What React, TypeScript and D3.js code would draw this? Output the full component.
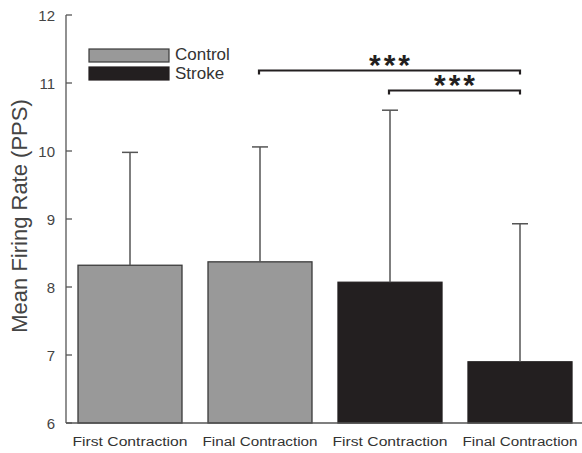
import React from "react";
import * as d3 from "d3";

// Mean firing rate (pulses per second) for each group and contraction
const categories = ["Control First", "Control Final", "Stroke First", "Stroke Final"];
const tickLabels = ["First Contraction", "Final Contraction", "First Contraction", "Final Contraction"];
const groups = ["Control", "Control", "Stroke", "Stroke"];
const means = [8.32, 8.37, 8.07, 6.9];
const upperErrors = [9.98, 10.06, 10.6, 8.93];
const yTicks = [6, 7, 8, 9, 10, 11, 12];
const legendItems = ["Control", "Stroke"];
// significance brackets: [from index, to index, label]
const brackets: [number, number, string][] = [
  [1, 3, "***"],
  [2, 3, "***"],
];

const W = 582;
const H = 453;
const fillFor: Record<string, string> = { Control: "#999999", Stroke: "#231f20" };
const font = "Liberation Sans, Arial, sans-serif";

export default function App() {
  const x = d3
    .scaleBand<string>()
    .domain(categories)
    .range([65, 585])
    .paddingInner(0.2)
    .paddingOuter(0.1);
  const y = d3.scaleLinear().domain([6, 12]).range([423, 15]);
  const axisX = 66;
  const cx = (i: number) => (x(categories[i]) as number) + x.bandwidth() / 2;
  const bracketY = [70.5, 90.5];

  return (
    <svg
      width={W}
      height={H}
      style={{ position: "absolute", left: 0, top: 0, background: "#fff" }}
      fontFamily={font}
    >
      {/* bars */}
      {categories.map((c, i) => (
        <rect
          key={c}
          x={x(c)}
          y={y(means[i])}
          width={x.bandwidth()}
          height={y(6) - y(means[i])}
          fill={fillFor[groups[i]]}
          stroke={groups[i] === "Control" ? "#3a3a3a" : "#231f20"}
          strokeWidth={1.3}
        />
      ))}
      {/* upper error bars */}
      {categories.map((c, i) => (
        <g key={"e" + c} stroke="#555" strokeWidth={1.5}>
          <line x1={cx(i)} x2={cx(i)} y1={y(means[i])} y2={y(upperErrors[i])} />
          <line x1={cx(i) - 8} x2={cx(i) + 8} y1={y(upperErrors[i])} y2={y(upperErrors[i])} />
        </g>
      ))}
      {/* axes */}
      <line x1={axisX} x2={axisX} y1={y(12)} y2={y(6)} stroke="#555" strokeWidth={1.3} />
      <line x1={axisX} x2={582} y1={y(6)} y2={y(6)} stroke="#555" strokeWidth={1.3} />
      {yTicks.map((t) => (
        <g key={t}>
          <line x1={axisX} x2={axisX + 6} y1={y(t)} y2={y(t)} stroke="#555" strokeWidth={1.3} />
          <text
            x={55}
            y={y(t) + 1}
            dy="0.35em"
            textAnchor="end"
            fontSize={15}
            fill="#444"
          >
            {t}
          </text>
        </g>
      ))}
      {tickLabels.map((t, i) => (
        <text
          key={"t" + i}
          x={cx(i) - 57.5}
          y={445.5}
          fontSize={12.5}
          textLength={115}
          lengthAdjust="spacingAndGlyphs"
          fill="#333"
        >
          {t}
        </text>
      ))}
      <text
        transform={`translate(27,216) rotate(-90)`}
        textAnchor="middle"
        fontSize={22}
        fill="#444"
      >
        Mean Firing Rate (PPS)
      </text>
      {/* legend */}
      {legendItems.map((g, i) => (
        <g key={g}>
          <rect
            x={89}
            y={49 + i * 18}
            width={80}
            height={13}
            fill={fillFor[g]}
            stroke={g === "Control" ? "#3a3a3a" : "#231f20"}
            strokeWidth={1.2}
          />
          <text x={175} y={60 + i * 19} fontSize={17} fill="#333">
            {g}
          </text>
        </g>
      ))}
      {/* significance brackets */}
      {brackets.map(([a, b, label], k) => {
        const x1 = k === 0 ? 259 : cx(a) - 1;
        const x2 = cx(b);
        const by = bracketY[k];
        return (
          <g key={"b" + k}>
            <path
              d={`M${x1},${by + 4}V${by}H${x2}V${by + 4}`}
              fill="none"
              stroke="#231f20"
              strokeWidth={2.2}
            />
            <text
              x={(x1 + x2) / 2 + 1.5}
              y={by + 4}
              textAnchor="middle"
              fontSize={30}
              fontWeight="bold"
              fill="#231f20"
              letterSpacing={3}
            >
              {label}
            </text>
          </g>
        );
      })}
    </svg>
  );
}
